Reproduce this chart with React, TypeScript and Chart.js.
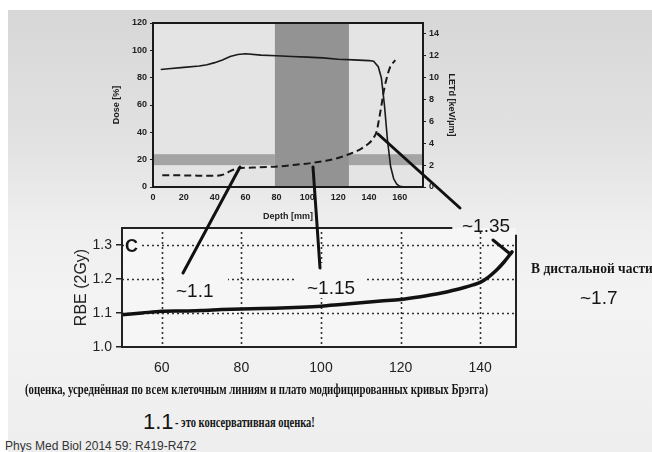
import React, { useEffect, useRef } from "react";
import { Chart, registerables } from "chart.js";

Chart.register(...registerables);

// ---------- Top chart (dose / LETd vs depth) ----------
const depthTicks = [0, 20, 40, 60, 80, 100, 120, 140, 160];
const doseTicks = [0, 20, 40, 60, 80, 100, 120];
const letTicks = [0, 2, 4, 6, 8, 10, 12, 14];

const doseDepth = [5, 10, 20, 30, 35, 40, 45, 50, 55, 60, 70, 80, 90, 100, 110, 120, 130, 140, 143, 146, 148, 150, 152, 154, 156, 158, 160, 163];
const doseValues = [86, 86.5, 87.5, 88.5, 89.5, 91, 93, 95.5, 97, 97.5, 96.5, 96, 95.5, 95, 94.5, 93.5, 93, 92.5, 92, 88, 80, 60, 34, 15, 6, 2, 0.5, 0];

const letDepth = [6, 15, 29, 40, 46, 50, 55, 65, 81, 90, 103, 112, 120, 127, 133, 137, 140, 143, 145, 146.5, 148, 149.5, 151, 153.5, 157];
const letValues = [1.08, 1.07, 1.04, 1.02, 1.15, 1.45, 1.7, 1.78, 1.88, 2.0, 2.2, 2.4, 2.65, 3.0, 3.35, 3.7, 4.0, 4.5, 5.1, 6.2, 7.4, 8.7, 9.7, 10.9, 11.6];

const darkBandDepth = [79, 127];
const greyBandDose = [16, 24];

// ---------- Bottom chart (RBE vs depth) ----------
const rbeDepthTicks = [60, 80, 100, 120, 140];
const rbeTicks = [1.0, 1.1, 1.2, 1.3];
const rbeDepth = [50, 55, 60, 65, 70, 75, 80, 85, 90, 95, 100, 105, 110, 115, 120, 125, 130, 133, 136, 138, 140, 142, 144, 146, 148];
const rbeValues = [1.095, 1.1, 1.105, 1.106, 1.107, 1.11, 1.112, 1.113, 1.115, 1.117, 1.12, 1.125, 1.13, 1.135, 1.14, 1.148, 1.158, 1.166, 1.175, 1.182, 1.19, 1.205, 1.225, 1.25, 1.28];

const SANS = "'Liberation Sans', Arial, sans-serif";
const SERIF = "'Liberation Serif', 'Times New Roman', serif";

const topDecor = {
  id: "topDecor",
  beforeDatasetsDraw(chart: any) {
    const { ctx, chartArea: a, scales } = chart;
    const x = scales.x, y = scales.y;
    ctx.save();
    ctx.fillStyle = "#e4e4e4";
    ctx.fillRect(a.left, a.top, a.width, a.height);
    const yT = y.getPixelForValue(greyBandDose[1]);
    const yB = y.getPixelForValue(greyBandDose[0]);
    const x1 = x.getPixelForValue(darkBandDepth[0]);
    const x2 = x.getPixelForValue(darkBandDepth[1]);
    ctx.fillStyle = "#a4a4a4";
    ctx.fillRect(a.left, yT, x1 - a.left, yB - yT);
    ctx.fillRect(x2, yT, a.right - x2, yB - yT);
    ctx.fillStyle = "#939393";
    ctx.fillRect(x1, a.top, x2 - x1, a.height);
    ctx.restore();
  },
  afterDatasetsDraw(chart: any) {
    const { ctx, chartArea: a } = chart;
    ctx.save();
    ctx.strokeStyle = "#1a1a1a";
    ctx.lineWidth = 2;
    ctx.strokeRect(a.left, a.top, a.width, a.height);
    ctx.restore();
  },
};

const bottomDecor = {
  id: "bottomDecor",
  beforeDatasetsDraw(chart: any) {
    const { ctx, chartArea: a, scales } = chart;
    const x = scales.x, y = scales.y;
    ctx.save();
    ctx.fillStyle = "#f6f6f6";
    ctx.fillRect(a.left, a.top, a.width, a.height);
    ctx.strokeStyle = "#333";
    ctx.lineWidth = 1.6;
    ctx.setLineDash([2, 3]);
    rbeDepthTicks.forEach((v) => {
      const px = Math.round(x.getPixelForValue(v)) + 0.5;
      ctx.beginPath();
      ctx.moveTo(px, a.top + 4);
      ctx.lineTo(px, a.bottom);
      ctx.stroke();
    });
    rbeTicks.slice(1).forEach((v) => {
      const py = Math.round(y.getPixelForValue(v)) + 0.5;
      ctx.beginPath();
      ctx.moveTo(a.left, py);
      ctx.lineTo(a.right, py);
      ctx.stroke();
    });
    ctx.restore();
  },
  afterDatasetsDraw(chart: any) {
    const { ctx, chartArea: a, scales } = chart;
    const x = scales.x, y = scales.y;
    ctx.save();
    ctx.strokeStyle = "#222";
    ctx.lineWidth = 2;
    ctx.beginPath();
    ctx.moveTo(x.getPixelForValue(133), a.top);
    ctx.lineTo(a.left, a.top);
    ctx.lineTo(a.left, a.bottom);
    ctx.lineTo(a.right, a.bottom);
    ctx.lineTo(a.right, y.getPixelForValue(1.33));
    ctx.stroke();
    ctx.restore();
  },
};

function TopChart() {
  const ref = useRef<HTMLCanvasElement>(null);
  useEffect(() => {
    const tickFont = { family: SANS, size: 9, weight: "bold" as const };
    const chart = new Chart(ref.current!, {
      type: "line",
      data: {
        datasets: [
          {
            data: doseDepth.map((d, i) => ({ x: d, y: doseValues[i] })),
            borderColor: "#1a1a1a",
            borderWidth: 1.6,
            pointRadius: 0,
            tension: 0,
            yAxisID: "y",
          },
          {
            data: letDepth.map((d, i) => ({ x: d, y: letValues[i] })),
            borderColor: "#1a1a1a",
            borderWidth: 2,
            borderDash: [7, 4],
            pointRadius: 0,
            cubicInterpolationMode: "monotone",
            yAxisID: "y1",
          },
        ],
      },
      options: {
        responsive: false,
        animation: false,
        devicePixelRatio: 1,
        layout: { padding: { left: 3, top: 19, right: 0, bottom: 0 } },
        plugins: { legend: { display: false }, tooltip: { enabled: false } },
        scales: {
          x: {
            type: "linear",
            min: 0,
            max: 175,
            afterBuildTicks: (s: any) => { s.ticks = depthTicks.map((v) => ({ value: v })); },
            afterFit: (s: any) => { s.height = 39; },
            grid: { display: false, drawTicks: false, tickLength: 0 },
            border: { display: false },
            ticks: { font: tickFont, color: "#222", padding: 5, maxRotation: 0 },
            title: { display: true, text: "Depth [mm]", font: tickFont, color: "#222", padding: { top: 0, bottom: 4 } },
          },
          y: {
            position: "left",
            min: 0,
            max: 120,
            afterBuildTicks: (s: any) => { s.ticks = doseTicks.map((v) => ({ value: v })); },
            afterFit: (s: any) => { s.width = 45; },
            grid: { drawOnChartArea: false, tickLength: 3, color: "#222" },
            border: { display: false },
            ticks: { font: tickFont, color: "#222", padding: 3 },
            title: { display: true, text: "Dose [%]", font: tickFont, color: "#222", padding: { top: 3, bottom: 0 } },
          },
          y1: {
            position: "right",
            min: 0,
            max: 15,
            afterBuildTicks: (s: any) => { s.ticks = letTicks.map((v) => ({ value: v })); },
            afterFit: (s: any) => { s.width = 37; },
            grid: { drawOnChartArea: false, tickLength: 3, color: "#222" },
            border: { display: false },
            ticks: { font: tickFont, color: "#222", padding: 3 },
            title: { display: true, text: "LETd [keV/μm]", font: tickFont, color: "#222", padding: { top: 3, bottom: 0 } },
          },
        },
      },
      plugins: [topDecor],
    } as any);
    return () => chart.destroy();
  }, []);
  return (
    <canvas
      ref={ref}
      width={355}
      height={222}
      style={{ position: "absolute", left: 105, top: 4, width: 355, height: 222 }}
    />
  );
}

function BottomChart() {
  const ref = useRef<HTMLCanvasElement>(null);
  useEffect(() => {
    const tickFont = { family: SANS, size: 14 };
    const chart = new Chart(ref.current!, {
      type: "line",
      data: {
        datasets: [
          {
            data: rbeDepth.map((d, i) => ({ x: d, y: rbeValues[i] })),
            borderColor: "#111",
            borderWidth: 3.5,
            pointRadius: 0,
            cubicInterpolationMode: "monotone",
            borderCapStyle: "round",
          },
        ],
      },
      options: {
        responsive: false,
        animation: false,
        devicePixelRatio: 1,
        layout: { padding: { left: 8, top: 18, right: 14, bottom: 0 } },
        plugins: { legend: { display: false }, tooltip: { enabled: false } },
        scales: {
          x: {
            type: "linear",
            min: 50,
            max: 149,
            afterBuildTicks: (s: any) => { s.ticks = rbeDepthTicks.map((v) => ({ value: v })); },
            afterFit: (s: any) => { s.height = 38; },
            grid: { display: false, drawTicks: false, tickLength: 0 },
            border: { display: false },
            ticks: { font: tickFont, color: "#222", padding: 13, maxRotation: 0 },
          },
          y: {
            min: 1.0,
            max: 1.35,
            afterBuildTicks: (s: any) => { s.ticks = rbeTicks.map((v) => ({ value: v })); },
            afterFit: (s: any) => { s.width = 54; },
            grid: { drawOnChartArea: false, tickLength: 6, color: "#222", lineWidth: 1.5 },
            border: { display: false },
            ticks: { font: tickFont, color: "#222", padding: 4, callback: (v: any) => Number(v).toFixed(1) },
            title: { display: true, text: "RBE (2Gy)", font: { family: SANS, size: 16 }, color: "#222", padding: { top: 4, bottom: 0 } },
          },
        },
      },
      plugins: [bottomDecor],
    } as any);
    return () => chart.destroy();
  }, []);
  return (
    <canvas
      ref={ref}
      width={470}
      height={175}
      style={{ position: "absolute", left: 60, top: 210, width: 470, height: 175 }}
    />
  );
}

const txt = (left: number, cy: number, extra: React.CSSProperties, sx = 1): React.CSSProperties => ({
  position: "absolute",
  left,
  top: cy,
  transform: `translateY(-50%) scaleX(${sx})`,
  transformOrigin: "0 50%",
  whiteSpace: "nowrap",
  lineHeight: 1,
  color: "#151515",
  ...extra,
});

export default function App() {
  return (
    <div style={{ position: "fixed", left: 0, top: 0, width: 652, height: 452, overflow: "hidden", background: "#ffffff" }}>
      <div
        style={{
          position: "absolute",
          left: 8,
          top: 10,
          right: 0,
          bottom: 0,
          background: "linear-gradient(180deg, #d7d7d7 0%, #e2e2e2 30%, #efefef 50%, #f3f3f3 65%, #eeeeee 100%)",
        }}
      />
      <TopChart />
      <BottomChart />

      {/* masks behind annotation labels */}
      <div style={{ position: "absolute", left: 165, top: 271, width: 63, height: 28, background: "#f6f6f6" }} />
      <div style={{ position: "absolute", left: 297, top: 263, width: 70, height: 35, background: "#f6f6f6" }} />
      <div style={{ position: "absolute", left: 124, top: 237, width: 15, height: 17, background: "#f6f6f6" }} />

      <div style={txt(125, 246, { fontFamily: SANS, fontSize: 18, fontWeight: "bold" })}>C</div>
      <div style={txt(176, 290, { fontFamily: SANS, fontSize: 19 })}>~1.1</div>
      <div style={txt(307, 287, { fontFamily: SANS, fontSize: 19 })}>~1.15</div>
      <div style={txt(462, 225, { fontFamily: SANS, fontSize: 19 })}>~1.35</div>
      <div style={txt(531, 268, { fontFamily: SERIF, fontSize: 15, fontWeight: "bold" }, 0.9)}>В дистальной части</div>
      <div style={txt(580, 297, { fontFamily: SANS, fontSize: 19 })}>~1.7</div>
      <div style={txt(25, 390, { fontFamily: SERIF, fontSize: 14, fontWeight: "bold" }, 0.77)}>
        (оценка, усреднённая по всем клеточным линиям и плато модифицированных кривых Брэгга)
      </div>
      <div style={txt(143, 422, { fontFamily: SANS, fontSize: 22 })}>1.1</div>
      <div style={txt(175, 423, { fontFamily: SERIF, fontSize: 14, fontWeight: "bold" }, 0.75)}>- это консервативная оценка!</div>
      <div style={txt(5, 446, { fontFamily: SANS, fontSize: 12, color: "#333" })}>Phys Med Biol 2014 59: R419-R472</div>

      <svg width={652} height={452} style={{ position: "absolute", left: 0, top: 0, pointerEvents: "none" }}>
        <g stroke="#111" strokeWidth={3} strokeLinecap="round">
          <line x1={240} y1={167} x2={183} y2={273} />
          <line x1={313} y1={167} x2={320} y2={268} />
          <line x1={378} y1={134} x2={460} y2={208} />
          <line x1={493} y1={240} x2={509} y2={253} />
        </g>
      </svg>
    </div>
  );
}
